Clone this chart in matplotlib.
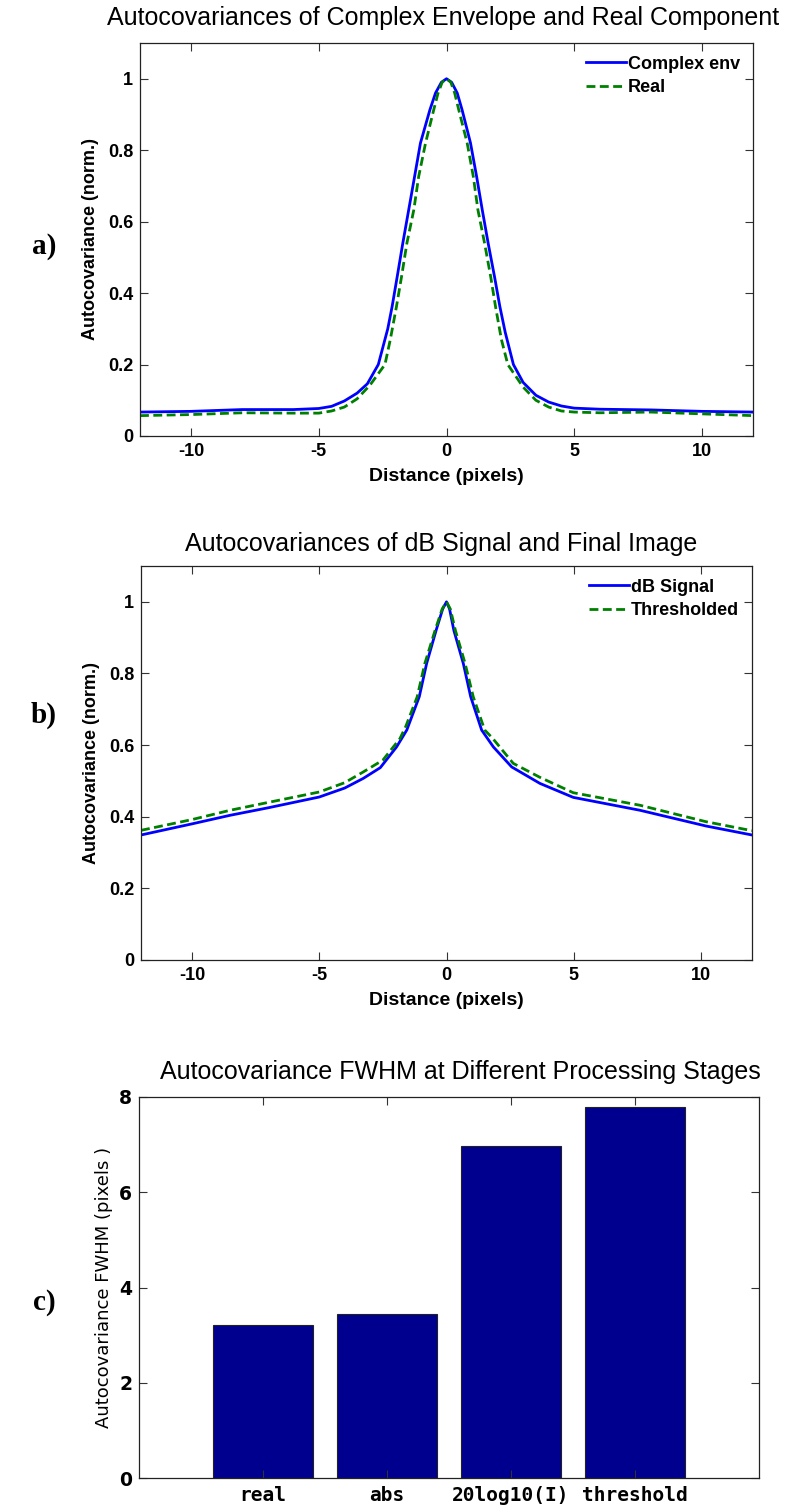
import matplotlib
matplotlib.use("Agg")
import matplotlib.pyplot as plt
from matplotlib import font_manager

plt.rcParams["axes.unicode_minus"] = False

# ---------------- data ----------------
# Panel a: autocovariance of complex envelope and real component
a_env_x = [-12, -10, -8, -6, -5, -4.5, -4, -3.5, -3.1, -2.67, -2.3, -2.13, -1.93, -1.71, -1.48,
           -1.25, -1.02, -0.65, -0.43, -0.2, 0, 0.2, 0.42, 0.61, 0.94, 1.18, 1.40, 1.63, 1.88, 2.09, 2.3,
           2.62, 3.0, 3.5, 4.0, 4.5, 5, 6, 8, 10, 12]
a_env_y = [0.067, 0.069, 0.074, 0.074, 0.077, 0.083, 0.098, 0.12, 0.146, 0.2, 0.30, 0.362, 0.446,
           0.54, 0.633, 0.726, 0.82, 0.913, 0.96, 0.99, 1.0, 0.99, 0.96, 0.913, 0.82, 0.726, 0.633, 0.54,
           0.446, 0.362, 0.29, 0.2, 0.15, 0.114, 0.095, 0.084, 0.078, 0.075, 0.073, 0.069, 0.067]
a_real_x = [-12, -10, -8, -6, -5, -4.5, -4, -3.5, -3, -2.41, -2.2, -1.96, -1.76, -1.55, -1.28,
            -1.09, -0.82, -0.5, -0.33, -0.17, 0, 0.17, 0.32, 0.48, 0.81, 1.05, 1.23, 1.49, 1.73, 1.92, 2.15,
            2.4, 3, 3.5, 4, 4.5, 5, 6, 8, 10, 12]
a_real_y = [0.057, 0.06, 0.065, 0.064, 0.064, 0.07, 0.081, 0.104, 0.142, 0.2, 0.27, 0.362, 0.446,
            0.54, 0.633, 0.726, 0.82, 0.913, 0.96, 0.99, 1.0, 0.99, 0.96, 0.913, 0.82, 0.726, 0.633, 0.54,
            0.446, 0.362, 0.27, 0.2, 0.137, 0.10, 0.081, 0.07, 0.067, 0.065, 0.067, 0.062, 0.057]

# Panel b: autocovariance of dB signal and thresholded image
b_db_x = [-12, -10, -8.5, -7, -5, -4, -3.27, -2.6, -1.96, -1.56, -1.07, -0.78, -0.41, -0.15, 0,
          0.12, 0.29, 0.66, 0.95, 1.38, 1.84, 2.56, 3.67, 4.98, 7.6, 10.2, 12]
b_db_y = [0.349, 0.38, 0.404, 0.425, 0.455, 0.48, 0.507, 0.537, 0.595, 0.642, 0.735, 0.828, 0.92,
          0.98, 1.0, 0.98, 0.92, 0.828, 0.735, 0.642, 0.595, 0.539, 0.493, 0.454, 0.418, 0.374, 0.349]
b_thr_x = [-12, -10, -8.5, -7, -5, -4, -3.27, -2.5, -1.83, -1.6, -1.15, -0.85, -0.45, -0.17, 0,
           0.15, 0.35, 0.73, 1.05, 1.5, 1.8, 2.62, 3.67, 4.98, 7.6, 10.2, 12]
b_thr_y = [0.362, 0.392, 0.418, 0.44, 0.469, 0.495, 0.525, 0.558, 0.618, 0.652, 0.735, 0.828, 0.92,
           0.98, 1.0, 0.98, 0.92, 0.828, 0.735, 0.642, 0.62, 0.549, 0.51, 0.467, 0.432, 0.386, 0.361]

# Panel c: FWHM at processing stages
c_stages = ["real", "abs", "20log10(I)", "threshold"]
c_fwhm = [3.22, 3.44, 6.98, 7.80]

# ---------------- fonts ----------------
names = {f.name for f in font_manager.fontManager.ttflist}
NARROW = "Liberation Sans Narrow" if "Liberation Sans Narrow" in names else "Liberation Sans"
SANS = "Liberation Sans"
SERIF = "Liberation Serif"

W, H = 795, 1512
fig = plt.figure(figsize=(W / 100, H / 100), dpi=100)


def fx(px):
    return px / W


def fy(py):
    return 1 - py / H


def make_axes(left, right, top, bottom):
    return fig.add_axes([fx(left), fy(bottom), fx(right) - fx(left), fy(top) - fy(bottom)])


def style(ax, tick_font=NARROW, tick_size=13):
    ax.tick_params(direction="in", top=True, right=True, length=6, width=0.8,
                   color="#333333", pad=5)
    for s in ax.spines.values():
        s.set_linewidth(0.9)
        s.set_color("#222222")
    for lab in ax.get_xticklabels() + ax.get_yticklabels():
        lab.set_fontfamily(tick_font)
        lab.set_fontweight("bold")
        lab.set_fontsize(tick_size)


BLUE = (0, 0, 1)
GREEN = (0, 0.5, 0)
LW = 2.0
TITLE_SIZE = 18

# ---------------- panel a ----------------
ax1 = make_axes(140, 753, 43, 436)
ax1.plot(a_env_x, a_env_y, color=BLUE, lw=LW, label="Complex env")
ax1.plot(a_real_x, a_real_y, color=GREEN, lw=LW, ls=(0, (3.2, 1.6)), label="Real")
ax1.set_xlim(-12, 12)
ax1.set_ylim(0, 1.1)
ax1.set_xticks([-10, -5, 0, 5, 10])
ax1.set_yticks([0, 0.2, 0.4, 0.6, 0.8, 1])
ax1.set_yticklabels(["0", "0.2", "0.4", "0.6", "0.8", "1"])
style(ax1)
ax1.set_xlabel("Distance (pixels)", fontfamily=NARROW, fontweight="bold", fontsize=14, labelpad=6)
ax1.set_ylabel("Autocovariance (norm.)", fontfamily=NARROW, fontweight="bold", fontsize=13, labelpad=6)
ax1.legend(loc="upper right", frameon=False, handlelength=2.2, handletextpad=0.15,
           borderaxespad=0.3, labelspacing=0.35,
           prop={"family": NARROW, "weight": "bold", "size": 13})
fig.text(fx(443), fy(18), "Autocovariances of Complex Envelope and Real Component",
         ha="center", va="center", fontfamily=SANS, fontsize=TITLE_SIZE)

# ---------------- panel b ----------------
ax2 = make_axes(141, 752, 566, 960)
ax2.plot(b_db_x, b_db_y, color=BLUE, lw=LW, label="dB Signal")
ax2.plot(b_thr_x, b_thr_y, color=GREEN, lw=LW, ls=(0, (3.2, 1.6)), label="Thresholded")
ax2.set_xlim(-12, 12)
ax2.set_ylim(0, 1.1)
ax2.set_xticks([-10, -5, 0, 5, 10])
ax2.set_yticks([0, 0.2, 0.4, 0.6, 0.8, 1])
ax2.set_yticklabels(["0", "0.2", "0.4", "0.6", "0.8", "1"])
style(ax2)
ax2.set_xlabel("Distance (pixels)", fontfamily=NARROW, fontweight="bold", fontsize=14, labelpad=6)
ax2.set_ylabel("Autocovariance (norm.)", fontfamily=NARROW, fontweight="bold", fontsize=13, labelpad=6)
ax2.legend(loc="upper right", frameon=False, handlelength=2.2, handletextpad=0.15,
           borderaxespad=0.3, labelspacing=0.35,
           prop={"family": NARROW, "weight": "bold", "size": 13})
fig.text(fx(441), fy(544), "Autocovariances of dB Signal and Final Image",
         ha="center", va="center", fontfamily=SANS, fontsize=TITLE_SIZE)

# ---------------- panel c ----------------
ax3 = make_axes(139, 759, 1097, 1478)
pos = list(range(1, len(c_stages) + 1))
ax3.bar(pos, c_fwhm, width=0.8, color=(0, 0, 0.5625), edgecolor="#222222", linewidth=0.8)
ax3.set_xlim(0, len(c_stages) + 1)
ax3.set_ylim(0, 8)
ax3.set_xticks(pos)
ax3.set_xticklabels(c_stages)
ax3.set_yticks([0, 2, 4, 6, 8])
style(ax3, tick_font="DejaVu Sans", tick_size=13.5)
for lab in ax3.get_xticklabels():
    lab.set_fontfamily("DejaVu Sans Mono")
    lab.set_fontsize(14)
ax3.tick_params(axis="x", pad=6)
ax3.set_ylabel("Autocovariance FWHM (pixels )", fontfamily="DejaVu Sans", fontsize=13, labelpad=4)
fig.text(fx(460), fy(1072), "Autocovariance FWHM at Different Processing Stages",
         ha="center", va="center", fontfamily=SANS, fontsize=TITLE_SIZE)

# ---------------- panel labels ----------------
for lbl, y in [("a)", 246), ("b)", 715), ("c)", 1303)]:
    fig.text(fx(44), fy(y), lbl, ha="center", va="center", fontfamily=SERIF,
             fontweight="bold", fontsize=21)

fig.savefig("out.png", dpi=100, facecolor="white")
